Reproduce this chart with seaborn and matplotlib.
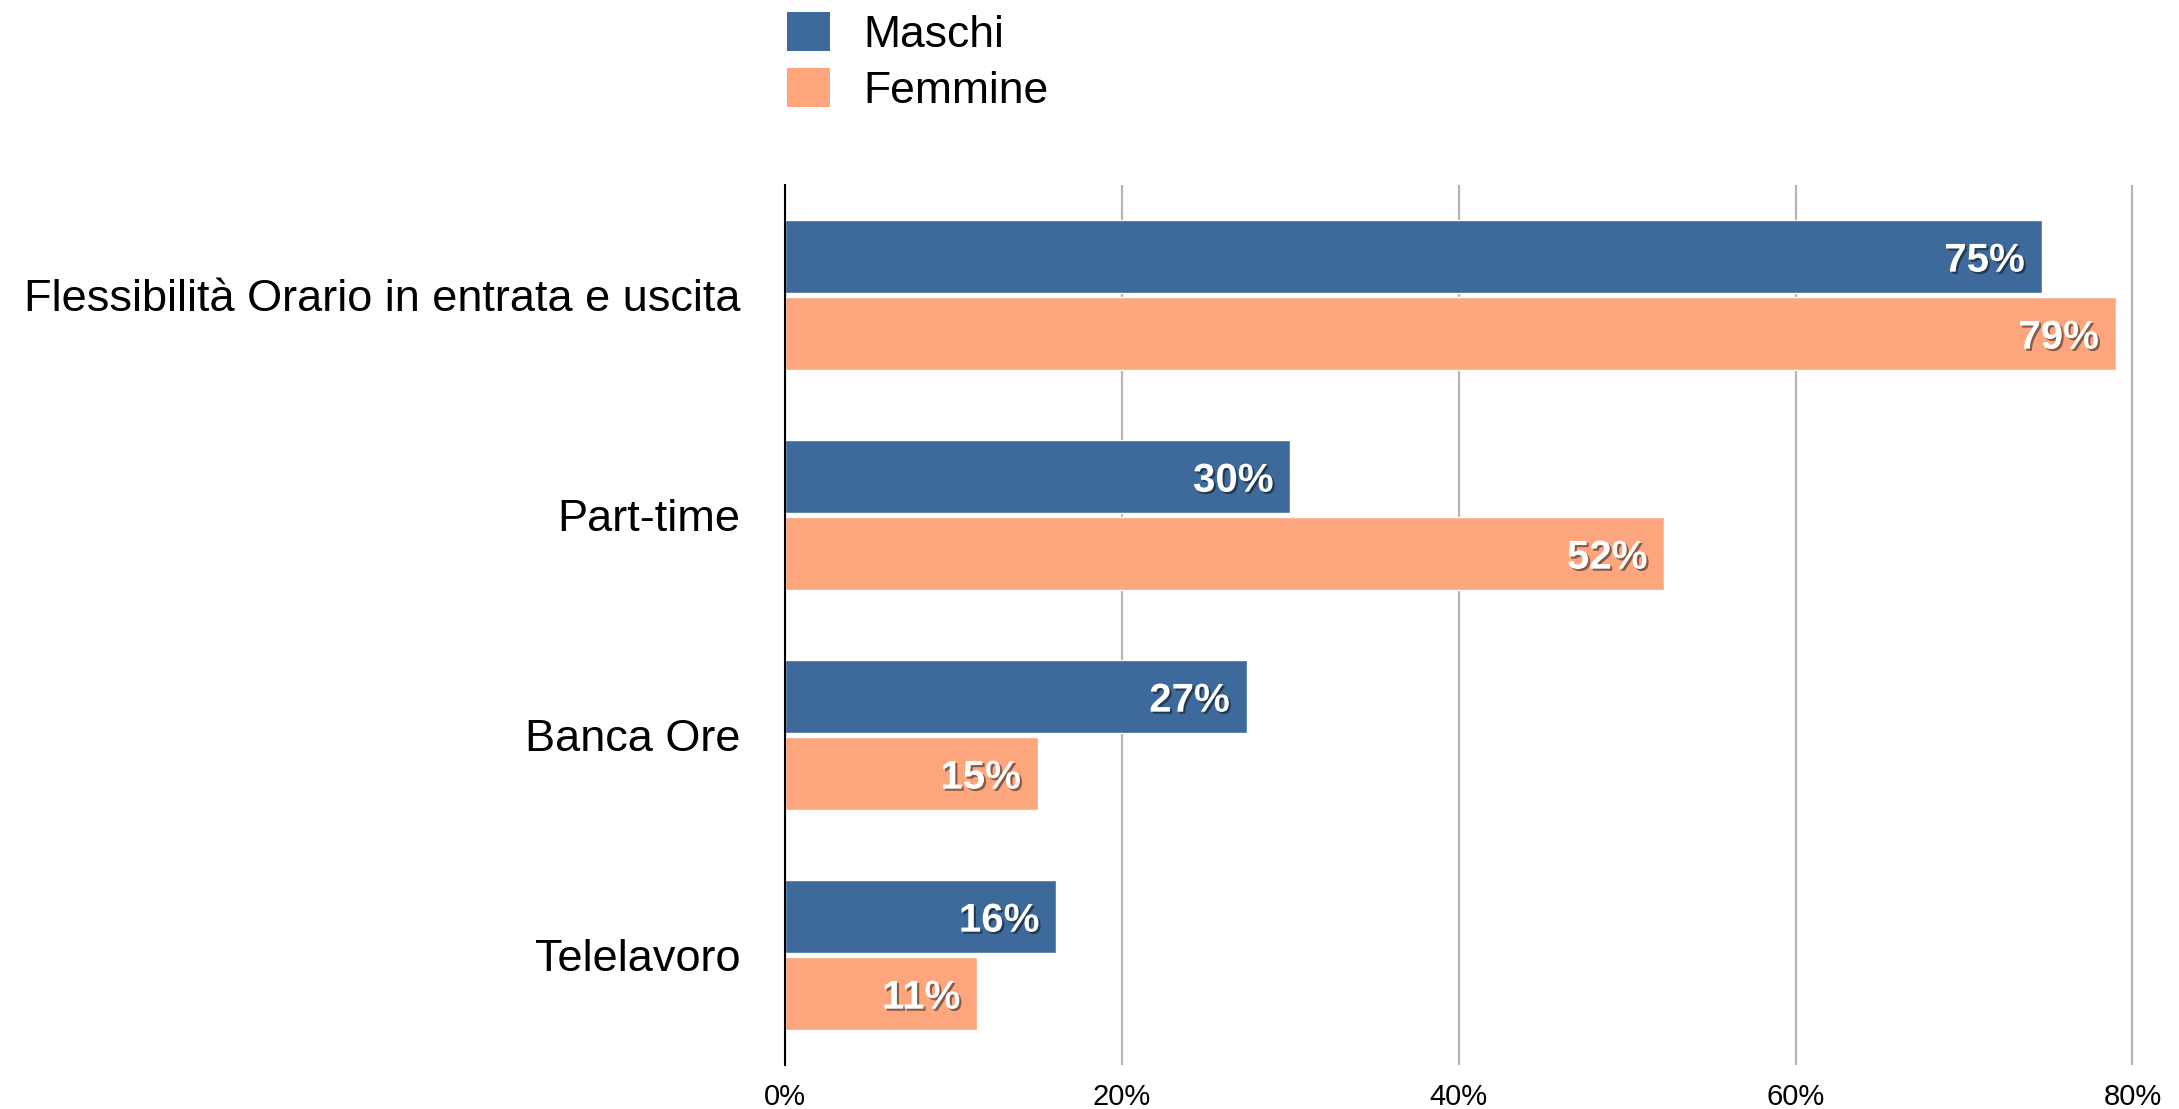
import matplotlib
matplotlib.use("Agg")
import matplotlib.pyplot as plt
import matplotlib.patheffects as pe
from matplotlib.patches import Patch
import seaborn as sns
import pandas as pd

categories = ["Flessibilità Orario in entrata e uscita", "Part-time", "Banca Ore", "Telelavoro"]
maschi = [74.6, 30.0, 27.4, 16.1]
femmine = [79.0, 52.2, 15.0, 11.4]
series_names = ["Maschi", "Femmine"]
x_ticks = [0, 20, 40, 60, 80]
x_tick_labels = ["0%", "20%", "40%", "60%", "80%"]
colors = ["#3d6a9a", "#fda57d"]

df = pd.DataFrame({
    "categoria": categories * 2,
    "valore": maschi + femmine,
    "sesso": [series_names[0]] * len(categories) + [series_names[1]] * len(categories),
})

sns.set_style("white")
plt.rcParams["font.family"] = ["Liberation Sans", "DejaVu Sans"]
plt.rcParams["text.color"] = "black"
plt.rcParams["xtick.color"] = "black"
plt.rcParams["ytick.color"] = "black"
plt.rcParams["axes.labelcolor"] = "black"

fig = plt.figure(figsize=(21.79, 11.09), dpi=100)
ax = fig.add_axes([785 / 2179, 1 - 1065 / 1109, (2135 - 785) / 2179, (1065 - 185) / 1109])

sns.barplot(data=df, x="valore", y="categoria", hue="sesso", orient="h",
            palette=colors, width=0.70, gap=0.04, saturation=1,
            order=categories, hue_order=series_names, ax=ax, legend=False)

ax.set_xlim(0, 80.15)
ax.set_ylim(3.5, -0.5)
ax.set_xticks(x_ticks)
ax.set_xticklabels(x_tick_labels)
ax.set_xlabel("")
ax.set_ylabel("")
ax.grid(axis="x", color="#b4b4b4", linewidth=1.6)
ax.set_axisbelow(True)
for s in ["top", "right", "bottom"]:
    ax.spines[s].set_visible(False)
ax.spines["left"].set_color("black")
ax.spines["left"].set_linewidth(1.5)
ax.spines["left"].set_zorder(5)
ax.tick_params(axis="x", length=0, pad=13, labelsize=21, labelcolor="black")
ax.tick_params(axis="y", length=0, pad=32, labelsize=32.5, labelcolor="black")

for cont in ax.containers:
    anns = ax.bar_label(cont, labels=[f"{v:.0f}%" for v in cont.datavalues],
                        label_type="edge", padding=-12, color="white",
                        fontsize=29, fontweight="bold",
                        path_effects=[pe.withSimplePatchShadow(offset=(1.5, -1.5), shadow_rgbFace="black", alpha=0.45)])
    for a in anns:
        a.set_ha("right")
        x, y = a.xyann
        a.xyann = (x, y - 3)

handles = [Patch(facecolor=c, edgecolor="none") for c in colors]
fig.legend(handles, series_names, loc="upper left",
           bbox_to_anchor=(787 / 2179, 1 - 12 / 1109), frameon=False,
           fontsize=32, handlelength=0.97, handleheight=0.97,
           handletextpad=0.75, labelspacing=0.28, borderpad=0, borderaxespad=0,
           labelcolor="black")

fig.savefig("out.png", dpi=100)
